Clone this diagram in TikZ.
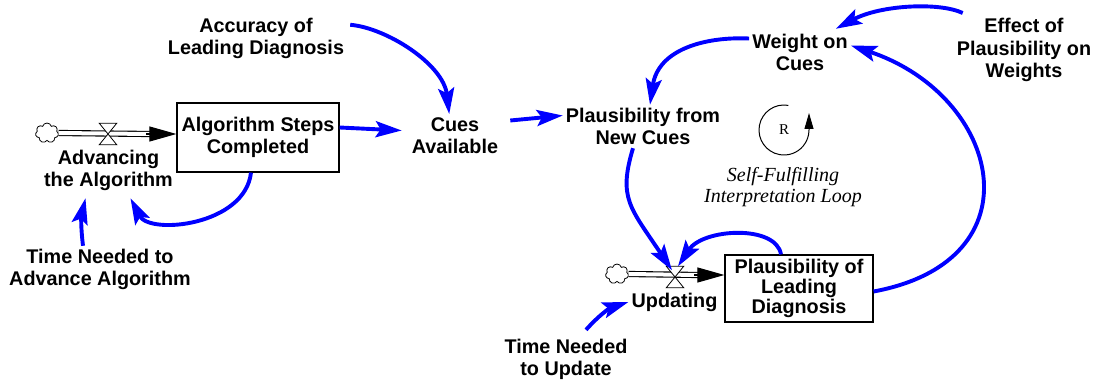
\documentclass[tikz,border=0pt]{standalone}
\usepackage{fontspec}
\setmainfont{Liberation Sans}
\newfontfamily\loopfont{Liberation Serif}
\usetikzlibrary{arrows.meta, shapes.symbols}
\definecolor{linkblue}{RGB}{0,0,255}

\begin{document}
\begin{tikzpicture}[x=1pt, y=-1pt,
    var/.style={align=center, inner sep=3pt, font=\fontsize{19.8}{22.5}\selectfont\bfseries},
    stock/.style={var, draw, line width=1.2pt, minimum width=162pt, minimum height=69pt},
    link/.style={draw=linkblue, line width=3.9pt, -{Stealth[length=26pt, width=16pt, inset=5pt]}},
    pipe/.style={double distance=4pt, line width=1.1pt},
    flowhead/.style={-{Triangle[length=27pt, width=15pt]}, line width=1.1pt},
    source/.style={cloud, cloud puffs=7, draw, line width=0.8pt, fill=white, minimum width=23pt, minimum height=20pt, inner sep=0pt},
    valve/.style={inner sep=0pt, minimum width=17pt, minimum height=21pt}
]
    \useasboundingbox (0,0) rectangle (1103,385);

    % variables and stocks
    \node[var] (acc) at (256,38.5) {Accuracy of\\Leading Diagnosis};
    \node[stock] (algo) at (258,137.5) {Algorithm Steps\\Completed};
    \node[var] (cues) at (455,135.5) {Cues\\Available};
    \node[var] (plaus) at (643,126.5) {Plausibility from\\New Cues};
    \node[var] (weight) at (800,52.5) {Weight on\\Cues};
    \node[var] (effect) at (1024,50) {Effect of\\Plausibility on\\Weights};
    \node[var] (adv) at (108.5,170.5) {Advancing\\the Algorithm};
    \node[var] (tna) at (100,269.5) {Time Needed to\\Advance Algorithm};
    \node[stock, minimum width=148pt, minimum height=67pt, font=\fontsize{19.8}{20}\selectfont\bfseries] (pld) at (799,288.5) {Plausibility of\\Leading\\Diagnosis};
    \node[var] (upd) at (674.5,302) {Updating};
    \node[var] (tnu) at (566,359.5) {Time Needed\\to Update};

    % flows
    \node[source] (cloudA) at (47,133) {};
    \node[valve] (valveA) at (108,134) {};
    \node[source] (cloudB) at (617,274) {};
    \node[valve] (valveB) at (675,277) {};
    \draw[pipe] (cloudA.east) -- ([xshift=-26pt, yshift=3.5pt]algo.west);
    \draw[flowhead] ([xshift=-30pt, yshift=3.5pt]algo.west) -- ([yshift=3.5pt]algo.west);
    \draw[pipe] (cloudB.east) -- ([xshift=-26pt, yshift=13.5pt]pld.west);
    \draw[flowhead] ([xshift=-30pt, yshift=13.5pt]pld.west) -- ([yshift=13.5pt]pld.west);
    \draw[fill=white, line width=0.8pt] (valveA.north west) -- (valveA.north east) -- (valveA.south west) -- (valveA.south east) -- cycle;
    \draw[fill=white, line width=0.8pt] (valveB.north west) -- (valveB.north east) -- (valveB.south west) -- (valveB.south east) -- cycle;

    % loop marker
    \node[font=\loopfont\fontsize{15}{15}\selectfont] (loopR) at (784,130) {R};
    \draw[line width=1pt, -{Triangle[length=16pt, width=9pt]}] (loopR) ++(80:25pt) arc[start angle=80, end angle=360, radius=25pt] -- ++(0pt,17pt);
    \node[align=center, font=\loopfont\itshape\fontsize{20}{21}\selectfont] (loopname) at (783,187.5) {Self-Fulfilling\\Interpretation Loop};

    % links
    \draw[link] ([shift={(3pt,-10pt)}]acc.north east) .. controls +(36,3) and +(-6,-50) .. (cues.105);
    \draw[link] ([yshift=10pt]algo.east) -- ([shift={(-7pt,5pt)}]cues.west);
    \draw[link] ([shift={(9pt,15pt)}]cues.east) -- ([yshift=11pt]plaus.west);
    \draw[link] ([xshift=-7pt]algo.south) .. controls +(-6,53) and +(19,37) .. ([shift={(22pt,-4pt)}]adv.south);
    \draw[link] ([xshift=-17pt]tna.north) to[bend left=10] ([shift={(-23pt,-4pt)}]adv.south);
    \draw[link] ([xshift=-10pt]plaus.south) .. controls +(-15,50) and +(-42,-63) .. ([shift={(-3pt,-4pt)}]valveB.north);
    \draw[link] ([xshift=-18pt]pld.north) .. controls +(-5,-30) and +(25,-38) .. ([xshift=3pt]valveB.north);
    \draw[link] ([shift={(20pt,6pt)}]tnu.north) to[bend left=15] (upd.west);
    \draw[link] ([yshift=-3pt]pld.east) .. controls +(167,-31) and +(150,50) .. ([yshift=7pt]weight.east);
    \draw[link] ([shift={(9pt,2pt)}]effect.north west) .. controls +(-23,-11) and +(45,-24) .. ([shift={(-15pt,2pt)}]weight.north east);
    \draw[link] ([yshift=14pt]weight.west) .. controls +(-45,-2) and +(8,-55) .. ([xshift=7pt]plaus.north);
\end{tikzpicture}
\end{document}
